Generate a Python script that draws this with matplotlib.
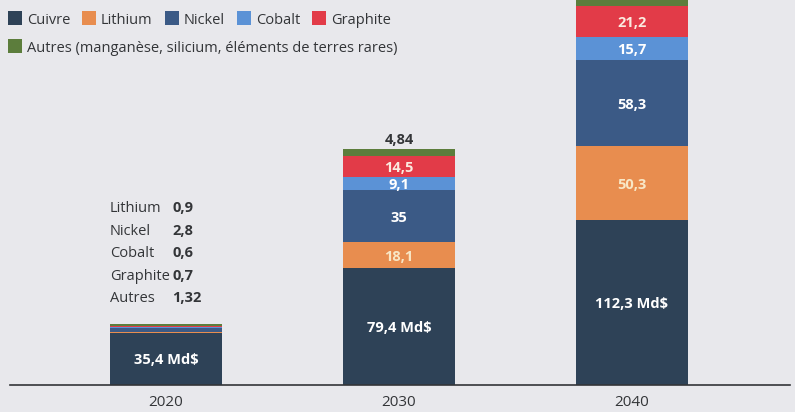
import matplotlib
matplotlib.use("Agg")
import matplotlib.pyplot as plt
from matplotlib.patches import Rectangle
import numpy as np

plt.rcParams['font.family'] = ['Open Sans', 'DejaVu Sans']

years = ["2020", "2030", "2040"]
series = ["Cuivre", "Lithium", "Nickel", "Cobalt", "Graphite", "Autres"]
legend_labels = ["Cuivre", "Lithium", "Nickel", "Cobalt", "Graphite",
                 "Autres (manganèse, silicium, éléments de terres rares)"]
cuivre = [35.4, 79.4, 112.3]
lithium = [0.9, 18.1, 50.3]
nickel = [2.8, 35.0, 58.3]
cobalt = [0.6, 9.1, 15.7]
graphite = [0.7, 14.5, 21.2]
autres = [1.32, 4.84, 10.0]  # 2040 value cut off in the reference (estimate)
values = [cuivre, lithium, nickel, cobalt, graphite, autres]

# labels inside bars
inner_labels = [
    ["35,4 Md$", "79,4 Md$", "112,3 Md$"],
    ["", "18,1", "50,3"],
    ["", "35", "58,3"],
    ["", "9,1", "15,7"],
    ["", "14,5", "21,2"],
    ["", "", ""],
]
top_label_2030 = "4,84"
note_names = ["Lithium", "Nickel", "Cobalt", "Graphite", "Autres"]
note_values = ["0,9", "2,8", "0,6", "0,7", "1,32"]

colors = ["#2e4257", "#e88d4f", "#3b5a86", "#5b92d6", "#e23b48", "#5c7d3c"]
label_colors = ["white", "#f8e7c6", "white", "white", "#fbeadf", "white"]
bg = "#e8e8ec"
dark = "#333538"

W, H = 795, 412
fig = plt.figure(figsize=(W / 100, H / 100), dpi=100, facecolor=bg)
ax = fig.add_axes([0, 27 / H, 1, 1 - 27 / H])
ax.set_facecolor(bg)

x = np.arange(len(years))
width = 0.48
bottom = np.zeros(len(years))
for vals, col, labs, lc in zip(values, colors, inner_labels, label_colors):
    vals = np.array(vals)
    bars = ax.bar(x, vals, width, bottom=bottom, color=col, linewidth=0)
    for xi, b, v, lab in zip(x, bottom, vals, labs):
        if lab:
            ax.text(xi, b + v / 2, lab, ha="center", va="center_baseline",
                    color=lc, fontsize=10.5, fontweight="bold")
    bottom = bottom + vals

# 4,84 above the 2030 bar
ax.text(x[1], bottom[1] + 3.0, top_label_2030, ha="center", va="baseline",
        color=dark, fontsize=10.5, fontweight="bold")

# note for 2020
note_top = 117.5
step = 15.3
for i, (n, v) in enumerate(zip(note_names, note_values)):
    y = note_top - i * step
    ax.text(x[0] - width / 2 + 0.0, y, n, ha="left", va="baseline",
            color=dark, fontsize=10.5)
    ax.text(x[0] - width / 2 + 0.268, y, v, ha="left", va="baseline",
            color=dark, fontsize=10.5, fontweight="bold")

ax.set_xlim(-0.712, 2.70)
ax.set_ylim(0, 262)
ax.axhline(0, xmin=0.012, xmax=0.994, color=dark, lw=1.2, clip_on=False)
for s in ax.spines.values():
    s.set_visible(False)
ax.set_yticks([])
ax.set_xticks(x)
ax.set_xticklabels(years, fontsize=11, color=dark)
ax.tick_params(axis="x", length=0, pad=7)

# legend drawn manually
row1_y = 1 - 18 / H
row2_y = 1 - 46 / H
sq = 14
items = [(8, row1_y, 0), (82, row1_y, 1), (165, row1_y, 2), (237, row1_y, 3),
         (312, row1_y, 4), (8, row2_y, 5)]
for px, yy, k in items:
    fig.patches.append(Rectangle((px / W, yy - sq / 2 / H), sq / W, sq / H,
                                 transform=fig.transFigure, color=colors[k],
                                 linewidth=0))
    fig.text((px + sq + 5) / W, yy, legend_labels[k], ha="left",
             va="center_baseline", color=dark, fontsize=10.5)

fig.savefig("out.png", dpi=100, facecolor=bg)
